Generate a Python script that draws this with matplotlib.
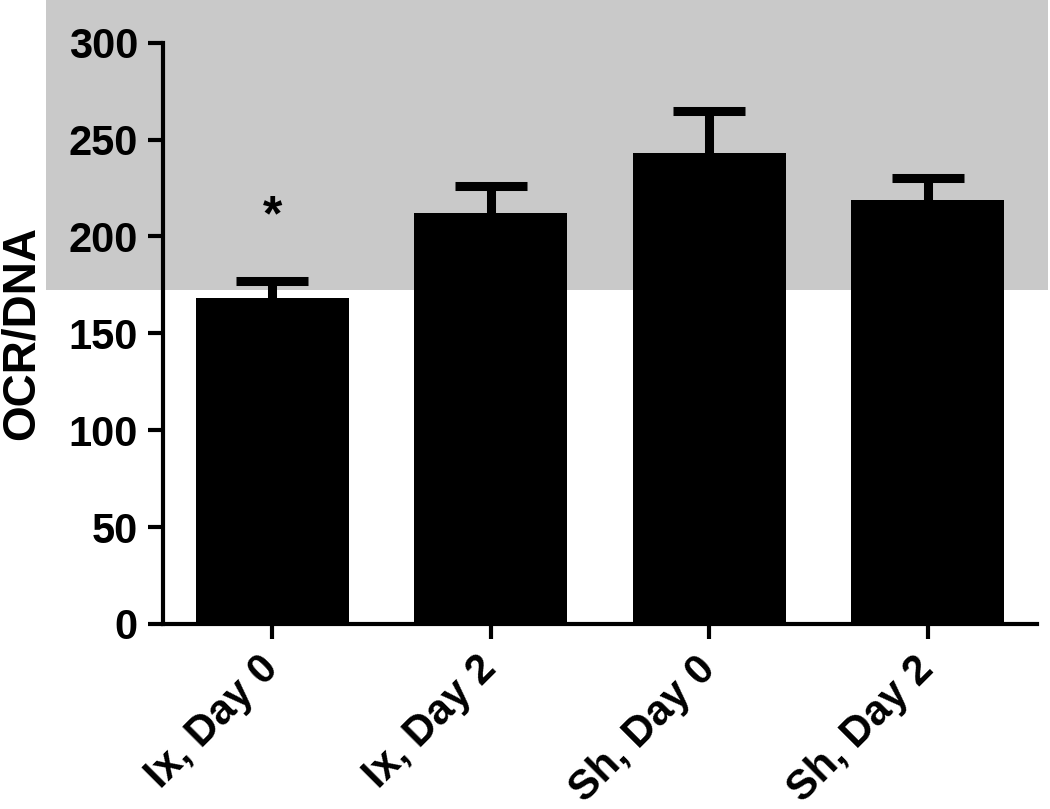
import matplotlib.pyplot as plt
from matplotlib.patches import Rectangle

groups = ['Ix, Day 0', 'Ix, Day 2', 'Sh, Day 0', 'Sh, Day 2']
ocr_dna = [168, 212, 243, 219]
sem = [9, 14, 22, 11]
star_group = 0
star_y = 210

plt.rcParams['font.family'] = ['Liberation Sans', 'DejaVu Sans']
plt.rcParams['font.weight'] = 'bold'

fig = plt.figure(figsize=(10.5, 8.09), dpi=100)

# grey band in the upper part of the image
fig.patches.append(Rectangle((0.044, 0.642), 0.954, 0.358, transform=fig.transFigure,
                             facecolor='#c9c9c9', edgecolor='none', zorder=-1))

ax = fig.add_axes([0.1552, 0.2287, 0.8324, 0.7185])
ax.patch.set_alpha(0)

x = range(len(groups))
ax.bar(x, ocr_dna, width=0.7, color='black', zorder=3)
_, caps, _ = ax.errorbar(x, ocr_dna, yerr=[[0] * len(sem), sem], fmt='none', ecolor='black',
                         elinewidth=6.5, capsize=26, capthick=6.5, zorder=2)
caps[0].remove()  # only the upper cap
ax.text(star_group, star_y, '*', ha='center', va='center', fontsize=36)

ax.set_xlim(-0.5, 3.5)
ax.set_ylim(0, 300)
ax.set_yticks([0, 50, 100, 150, 200, 250, 300])
ax.set_xticks(list(x))
ax.set_xticklabels(groups, rotation=45, ha='right', va='center', rotation_mode='anchor',
                   fontsize=31)
ax.set_ylabel('OCR/DNA', fontsize=33, fontweight='bold')
ax.yaxis.set_label_coords(-0.137, 0.5)

for side in ['top', 'right']:
    ax.spines[side].set_visible(False)
for side in ['left', 'bottom']:
    ax.spines[side].set_linewidth(3)
ax.tick_params(width=3, length=11, labelsize=30, pad=7)
ax.tick_params(axis='x', pad=17)

fig.savefig('out.png', dpi=100)
